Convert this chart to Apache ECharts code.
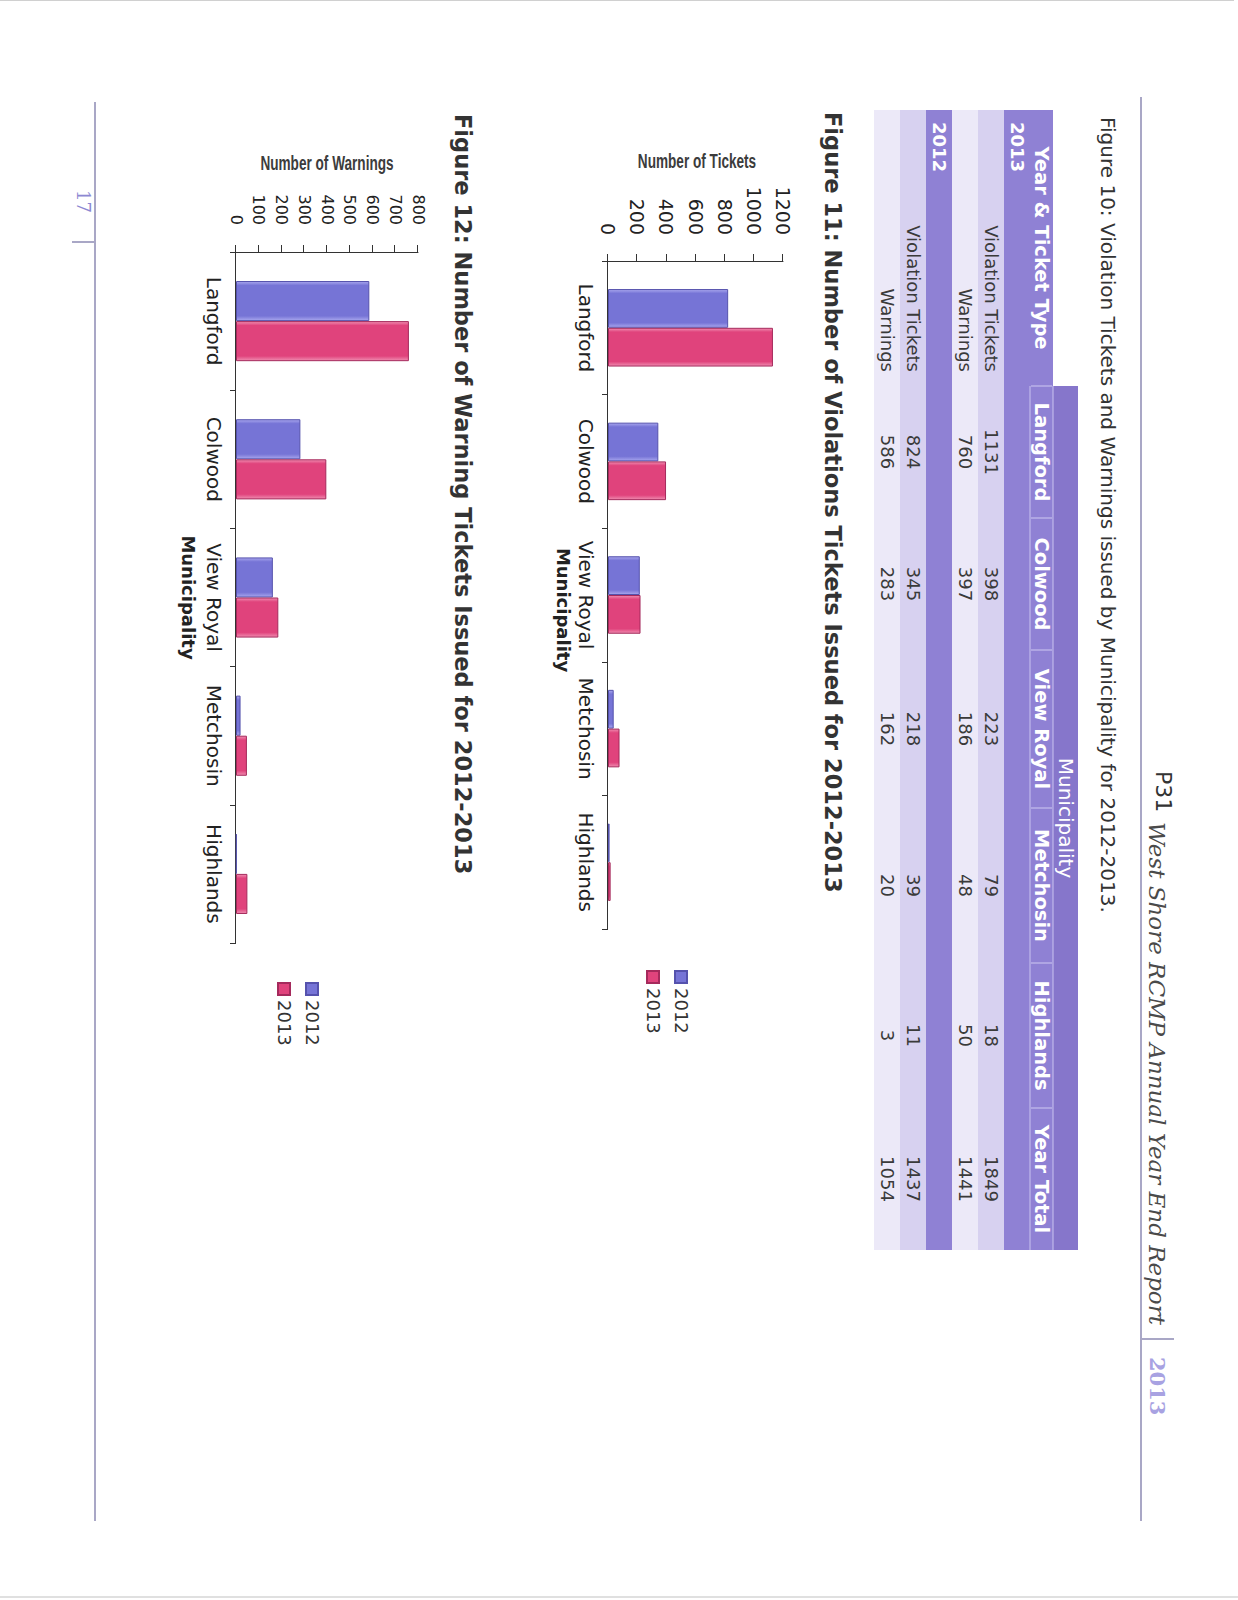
<!DOCTYPE html>
<html>
<head>
<meta charset="utf-8">
<title>West Shore RCMP - Figures 10-12</title>
<script src="https://cdn.jsdelivr.net/npm/echarts/dist/echarts.min.js"></script>
<style>
  html, body { margin: 0; padding: 0; background: #fff; }
  #page { position: absolute; left: 0; top: 0; width: 1238px; height: 1600px; overflow: hidden; background: #fff; }
  /* the scanned page lies on its side: draw it upright, then turn it */
  #chart { position: absolute; left: 0; top: 0; width: 1600px; height: 1238px;
           transform-origin: 0 0; transform: translate(1238px, 0) rotate(90deg); }
</style>
</head>
<body>
<div id="page"><div id="chart"></div></div>
<script>
// data read from the page
const municipalities = ["Langford", "Colwood", "View Royal", "Metchosin", "Highlands"];
const tickets2013 = [1131, 398, 223, 79, 18];
const warnings2013 = [760, 397, 186, 48, 50];
const tickets2012 = [824, 345, 218, 39, 11];
const warnings2012 = [586, 283, 162, 20, 3];
const totals2013 = [1849, 1441];
const totals2012 = [1437, 1054];
const tableYears = ["2013", "2012"];
const ticketTypes = ["Violation Tickets", "Warnings"];
const seriesNames = ["2012", "2013"];
const ticketTicks = [0, 200, 400, 600, 800, 1000, 1200];
const warningTicks = [0, 100, 200, 300, 400, 500, 600, 700, 800];

const SANS = "DejaVu Sans, Verdana, sans-serif";
const NARROW = "Liberation Sans, Arial, sans-serif";
const SERIF = "DejaVu Serif, serif";
const PURPLE = "#8f81d4";

const chart = echarts.init(document.getElementById("chart"), null, { renderer: "svg" });

function barStyle(main, edge, border) {
  return {
    color: new echarts.graphic.LinearGradient(0, 0, 1, 0, [
      { offset: 0, color: edge },
      { offset: 0.1, color: main },
      { offset: 0.88, color: main },
      { offset: 1, color: edge }
    ]),
    borderColor: border,
    borderWidth: 1
  };
}
const blue = barStyle("#7674d6", "#a9a7ee", "#5552ad");
const pink = barStyle("#e0437c", "#f08db1", "#a52a5c");

// ---- table (Figure 10) ----
const colEdges = [110, 386, 518, 650, 808, 963, 1108, 1250];
const rowEdges = [160, 185, 208, 234, 260, 286, 312, 338, 364];
const graphics = [];

function rect(x1, y1, x2, y2, fill) {
  graphics.push({ type: "rect", silent: true, shape: { x: x1, y: y1, width: x2 - x1, height: y2 - y1 }, style: { fill: fill } });
}
function line(x1, y1, x2, y2, stroke, w) {
  graphics.push({ type: "line", silent: true, shape: { x1: x1, y1: y1, x2: x2, y2: y2 }, style: { stroke: stroke, lineWidth: w || 1 } });
}
function text(str, x, y, opt) {
  opt = opt || {};
  const el = {
    type: "text", silent: true, x: x, y: y,
    style: {
      text: String(str),
      fill: opt.color || "#333",
      fontSize: opt.size || 16,
      fontFamily: opt.family || SANS,
      fontWeight: opt.weight || "normal",
      fontStyle: opt.style || "normal",
      align: opt.align || "left",
      verticalAlign: opt.valign || "middle"
    }
  };
  if (opt.rotation) el.rotation = opt.rotation;
  if (opt.scaleX) el.scaleX = opt.scaleX;
  graphics.push(el);
}

const tEnd = colEdges[colEdges.length - 1];
rect(colEdges[1], rowEdges[0], tEnd, rowEdges[1], "#8676cb");
rect(colEdges[0], rowEdges[1], tEnd, rowEdges[3], PURPLE);
rect(colEdges[0], rowEdges[3], tEnd, rowEdges[4], "#d7d1f0");
rect(colEdges[0], rowEdges[4], tEnd, rowEdges[5], "#ece9f8");
rect(colEdges[0], rowEdges[5], tEnd, rowEdges[6], PURPLE);
rect(colEdges[0], rowEdges[6], tEnd, rowEdges[7], "#d7d1f0");
rect(colEdges[0], rowEdges[7], tEnd, rowEdges[8], "#ece9f8");

line(colEdges[1], rowEdges[1], tEnd, rowEdges[1], "#c9c3f0");
line(colEdges[1], rowEdges[2], tEnd, rowEdges[2], "#c9c3f0");
for (let i = 1; i < colEdges.length - 1; i++) {
  line(colEdges[i], rowEdges[1] + 1, colEdges[i], rowEdges[2] - 1, "#cfc9f2");
}

const midRow = (r) => (rowEdges[r] + rowEdges[r + 1]) / 2;
const midCol = (c) => (colEdges[c] + colEdges[c + 1]) / 2;

text("Municipality", (colEdges[1] + tEnd) / 2, midRow(0), { color: "#fff", size: 20, align: "center" });
const headers = ["Year & Ticket Type"].concat(municipalities, ["Year Total"]);
headers.forEach((h, c) => text(h, midCol(c), midRow(1), { color: "#fff", weight: "bold", size: 19.5, align: "center" }));

const tableValues = { "2013": [tickets2013, warnings2013], "2012": [tickets2012, warnings2012] };
const tableTotals = { "2013": totals2013, "2012": totals2012 };
tableYears.forEach((yr, yi) => {
  const band = 2 + yi * 3;
  text(yr, colEdges[0] + 12, midRow(band), { color: "#fff", weight: "bold", size: 18 });
  ticketTypes.forEach((tt, ti) => {
    const r = band + 1 + ti;
    text(tt, colEdges[1] - 14, midRow(r), { size: 18, align: "right", color: "#3a3a3a" });
    const vals = tableValues[yr][ti].concat([tableTotals[yr][ti]]);
    vals.forEach((v, c) => text(v, midCol(c + 1), midRow(r), { size: 18, align: "center", color: "#3a3a3a" }));
  });
});

// ---- page header / footer ----
line(97, 97, 1521, 97, "#a9a7c6", 2);
text("P31", 771, 75, { size: 22, color: "#333" });
text("West Shore RCMP Annual Year End Report", 822, 81, { size: 23, family: SERIF, style: "italic", color: "#4a4a4a" });
line(1339, 64, 1339, 98, "#a9a7c6", 2);
text("2013", 1357, 81, { size: 21, family: SERIF, weight: "bold", color: "#a8a2e2" });
line(102, 1143, 1521, 1143, "#a9a7c6", 2);
line(242, 1143, 242, 1166, "#a9a7c6", 2);
text("17", 190, 1155, { size: 18, family: SERIF, color: "#8d88d2" });
line(0, 4, 0, 1238, "#d0d0d0", 2);
line(1597, 0, 1597, 1238, "#e0e0e0", 2);

// value-axis titles: narrow bold type, turned to read upwards
text("Number of Tickets", 162, 541, { size: 20, family: NARROW, weight: "bold", color: "#3c3c3c", align: "center", rotation: Math.PI / 2, scaleX: 0.68 });
text("Number of Warnings", 164, 911, { size: 20, family: NARROW, weight: "bold", color: "#3c3c3c", align: "center", rotation: Math.PI / 2, scaleX: 0.68 });

// ---- charts ----
function catAxis(grid, gap, pad) {
  return {
    type: "category", gridIndex: grid, data: municipalities,
    axisLine: { lineStyle: { color: "#333", width: 1 } },
    axisTick: { show: true, length: 6, lineStyle: { color: "#333" } },
    axisLabel: { fontSize: 20, fontFamily: SANS, color: "#222", margin: 12, interval: 0 },
    name: "Municipality", nameLocation: "middle", nameGap: gap,
    nameTextStyle: { fontSize: 18, fontFamily: SANS, fontWeight: "bold", color: "#222", padding: [0, 0, 0, pad] }
  };
}
function valAxis(grid, ticks, fs, margin) {
  return {
    type: "value", gridIndex: grid,
    min: ticks[0], max: ticks[ticks.length - 1], interval: ticks[1] - ticks[0],
    splitLine: { show: false },
    axisLine: { show: true, lineStyle: { color: "#333", width: 1 } },
    axisTick: { show: true, length: 7, lineStyle: { color: "#333" } },
    axisLabel: { fontSize: fs, fontFamily: SANS, color: "#222", margin: margin, formatter: (v) => String(v) }
  };
}
function legend(left, top) {
  return {
    orient: "vertical", left: left, top: top, data: seriesNames,
    icon: "rect", itemWidth: 12, itemHeight: 12, itemGap: 10, padding: 0,
    selectedMode: false,
    textStyle: { fontSize: 18, fontFamily: SANS, color: "#333" }
  };
}
function bars(name, data, idx, style) {
  return {
    name: name, type: "bar", xAxisIndex: idx, yAxisIndex: idx, data: data,
    barGap: "0%", barCategoryGap: "42%", itemStyle: style
  };
}

chart.setOption({
  animation: false,
  backgroundColor: "#fff",
  title: [
    { text: "Figure 10: Violation Tickets and Warnings issued by Municipality for 2012-2013.", left: 117, top: 120, padding: 0,
      textStyle: { fontSize: 20, fontFamily: SANS, fontWeight: "normal", color: "#333" } },
    { text: "Figure 11: Number of Violations Tickets Issued for 2012-2013", left: 112, top: 394, padding: 0,
      textStyle: { fontSize: 22.5, fontFamily: SANS, fontWeight: "bold", color: "#333" } },
    { text: "Figure 12: Number of Warning Tickets Issued for 2012-2013", left: 114, top: 764, padding: 0,
      textStyle: { fontSize: 22.5, fontFamily: SANS, fontWeight: "bold", color: "#333" } }
  ],
  grid: [
    { left: 261, top: 455, width: 668, height: 175, outerBoundsMode: "none" },
    { left: 252, top: 820, width: 691, height: 182, outerBoundsMode: "none" }
  ],
  legend: [legend(970, 548), legend(982, 917)],
  xAxis: [catAxis(0, 36, 30), catAxis(1, 39, 0)],
  yAxis: [
    valAxis(0, ticketTicks, 19, 26),
    valAxis(1, warningTicks, 16, 27)
  ],
  series: [
    bars("2012", tickets2012, 0, blue),
    bars("2013", tickets2013, 0, pink),
    bars("2012", warnings2012, 1, blue),
    bars("2013", warnings2013, 1, pink)
  ],
  graphic: graphics
});
</script>
</body>
</html>
